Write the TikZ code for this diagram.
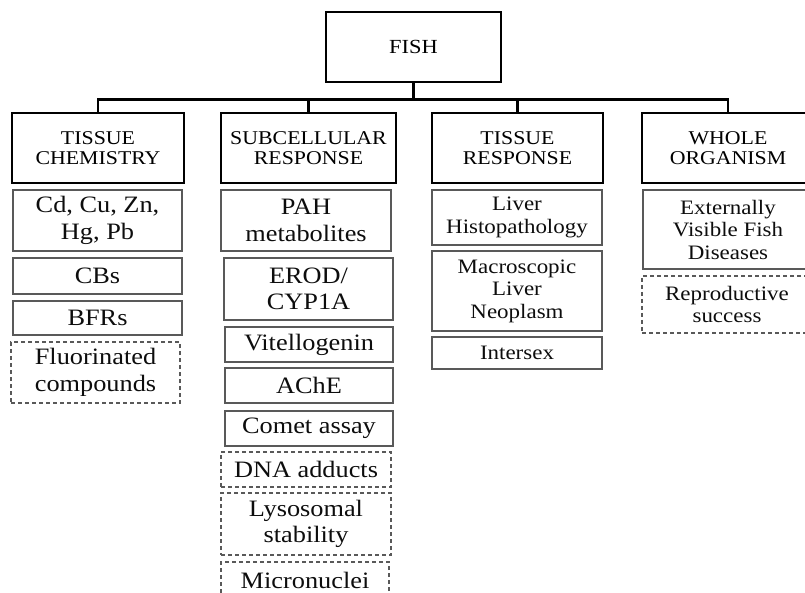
\documentclass[tikz,border=0pt]{standalone}
\usepackage{fontspec}
\setmainfont{Liberation Serif}[FakeStretch=1.12]
\usetikzlibrary{positioning}

\begin{document}
\begin{tikzpicture}[x=1pt, y=-1pt,
  rootbox/.style={draw, line width=2.8pt, minimum width=175pt, minimum height=70pt, inner sep=0pt, font=\fontsize{20}{21}\selectfont},
  headbox/.style={draw, line width=2.8pt, minimum height=70pt, inner sep=0pt, align=center, font=\fontsize{19.5}{20.5}\selectfont},
  itembox/.style={draw=black!65, line width=1.3pt, inner sep=0pt, align=center, text=black!95, font=\fontsize{20.5}{22.5}\selectfont},
  bigtext/.style={font=\fontsize{23.5}{26.5}\selectfont},
  optbox/.style={itembox, dash pattern=on 4pt off 3pt},
  link/.style={line width=2.8pt}]

\useasboundingbox (0,0) rectangle (805,593);

% root
\node[rootbox] (fish) at (413.5,47) {FISH};

% --- the four branches ---
\node[headbox, minimum width=172pt] (chem)  at (98,148)    {TISSUE\\CHEMISTRY};
\node[headbox, minimum width=175pt] (subc)  at (308.5,148) {SUBCELLULAR\\RESPONSE};
\node[headbox, minimum width=171pt] (tresp) at (517.5,148) {TISSUE\\RESPONSE};
\node[headbox, minimum width=172pt] (whole) at (728,148)   {WHOLE\\ORGANISM};

% --- links from FISH down to the branches ---
\draw[link] (fish.south) -- ++(0,16) -| (chem.north);
\draw[link] (fish.south) -- ++(0,16) -| (subc.north);
\draw[link] (fish.south) -- ++(0,16) -| (tresp.north);
\draw[link] (fish.south) -- ++(0,16) -| (whole.north);

% --- tissue chemistry ---
\node[itembox, bigtext, minimum width=169pt, minimum height=61pt] (metals) at (97.5,220.5) {Cd, Cu, Zn,\\Hg, Pb};
\node[itembox, bigtext, minimum width=169pt, minimum height=36pt] (cbs)    at (97.5,276)   {CBs};
\node[itembox, bigtext, minimum width=169pt, minimum height=34pt] (bfrs)   at (97.5,318)   {BFRs};
\node[optbox,  bigtext, minimum width=169pt, minimum height=61pt] (fluor)  at (95.5,372.5) {Fluorinated\\compounds};

% --- subcellular response ---
\node[itembox, bigtext, minimum width=170pt, minimum height=61pt] (pah)    at (306,220.5) {PAH\\metabolites};
\node[itembox, bigtext, minimum width=169pt, minimum height=62pt] (erod)   at (308.5,289) {EROD/\\CYP1A};
\node[itembox, bigtext, minimum width=168pt, minimum height=35pt] (vtg)    at (309,344.5) {Vitellogenin};
\node[itembox, bigtext, minimum width=168pt, minimum height=35pt] (ache)   at (309,385.5) {AChE};
\node[itembox, bigtext, minimum width=168pt, minimum height=35pt] (comet)  at (309,428.5) {Comet assay};
\node[optbox,  bigtext, minimum width=170pt, minimum height=35pt] (dna)    at (306,469.5) {DNA adducts};
\node[optbox,  bigtext, minimum width=170pt, minimum height=62pt] (lyso)   at (306,524)   {Lysosomal\\stability};
\node[optbox,  bigtext, minimum width=168pt, minimum height=36pt] (micro)  at (305,580)   {Micronuclei};

% --- tissue response ---
\node[itembox, minimum width=170pt, minimum height=55pt] (histo) at (517,217.5) {Liver\\Histopathology};
\node[itembox, minimum width=170pt, minimum height=80pt] (neo)   at (517,291)   {Macroscopic\\Liver\\Neoplasm};
\node[itembox, minimum width=170pt, minimum height=32pt] (isex)  at (517,353)   {Intersex};

% --- whole organism ---
\node[itembox, minimum width=170pt, minimum height=79pt] (disease) at (728,229.5) {Externally\\Visible Fish\\Diseases};
\node[optbox,  minimum width=170pt, minimum height=57pt] (repro)   at (727,304.5) {Reproductive\\success};

\end{tikzpicture}
\end{document}
